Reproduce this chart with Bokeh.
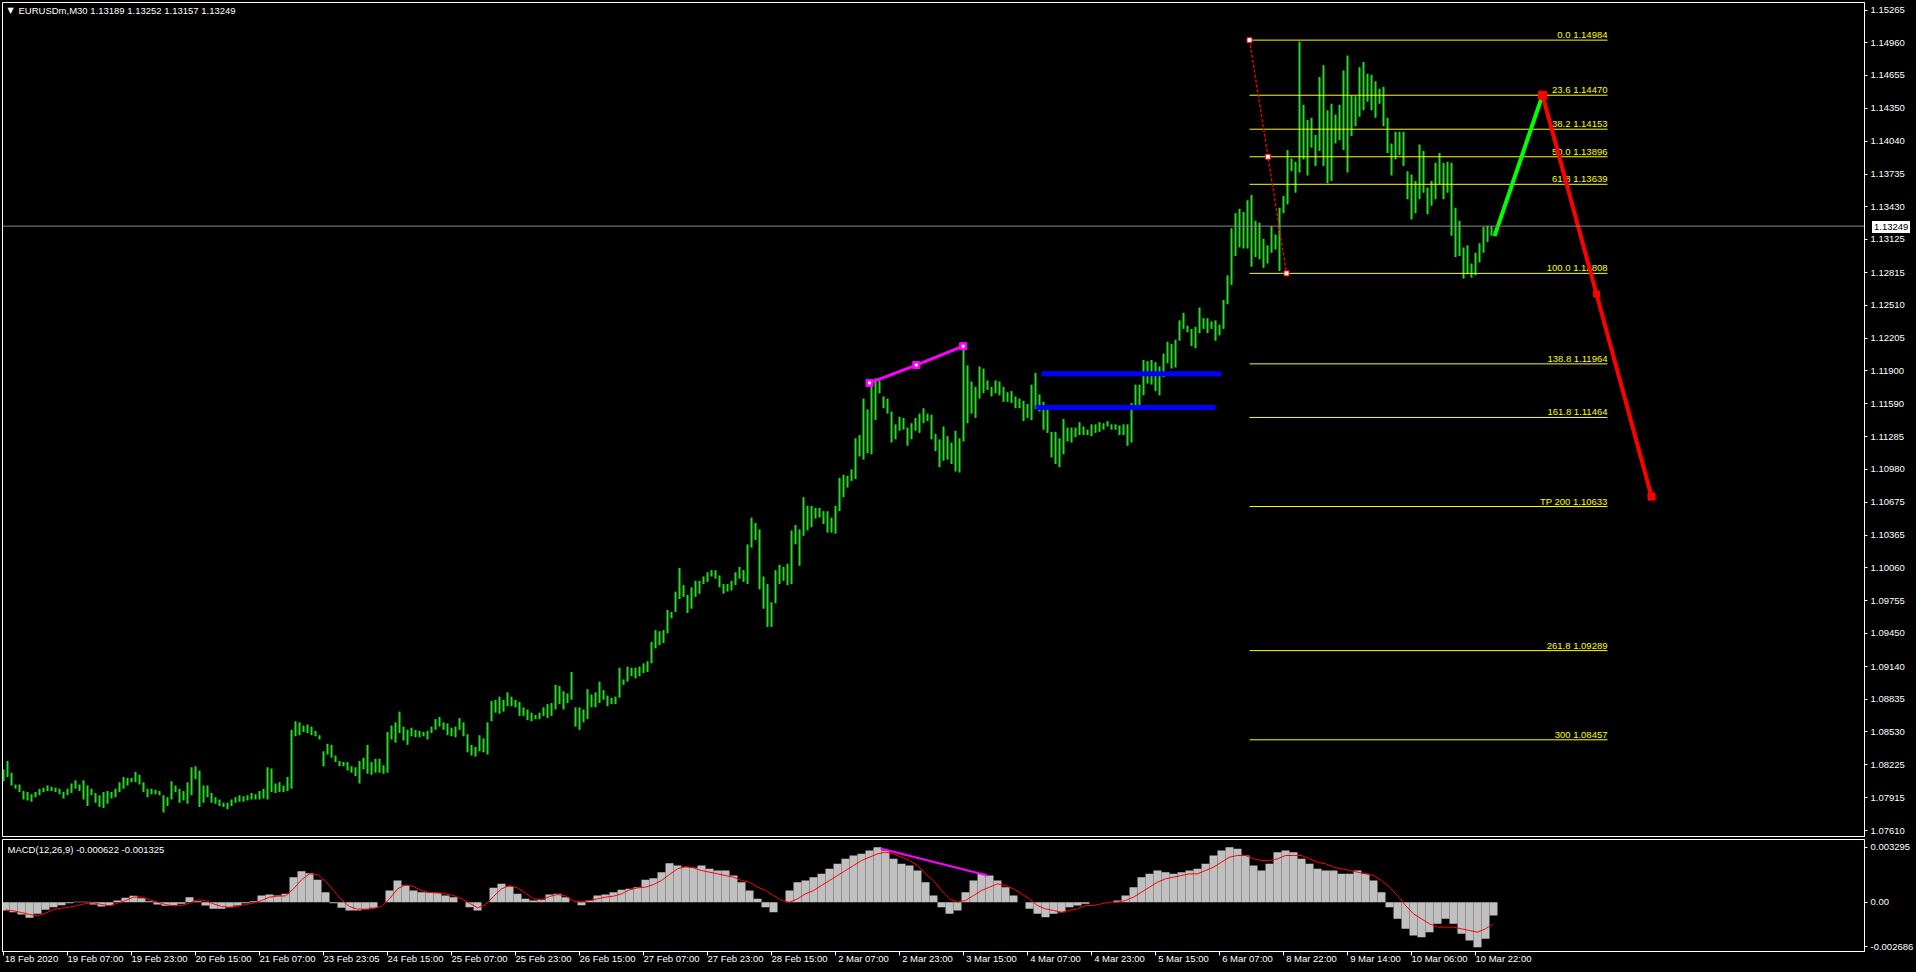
from bokeh.plotting import figure
from bokeh.layouts import column
from bokeh.models import (ColumnDataSource, FixedTicker, Range1d, Label, Span,
                          LinearAxis, PrintfTickFormatter, Div)
from bokeh.embed import file_html
from bokeh.resources import INLINE
from bokeh.core.properties import value

# ---------------- data ----------------
symbol_text = "EURUSDm,M30  1.13189 1.13252 1.13157 1.13249"
macd_text = "MACD(12,26,9) -0.000622 -0.001325"

# hourly columns of EURUSD M30 bars: high / low
bar_high = [
    1.0818, 1.0826, 1.0815, 1.0804, 1.0804, 1.0798, 1.0797, 1.0795, 1.0797, 1.0800,
    1.0801, 1.0803, 1.0802, 1.0801, 1.0800, 1.0797, 1.0800, 1.0805, 1.0808, 1.0804,
    1.0808, 1.0803, 1.0800, 1.0796, 1.0794, 1.0797, 1.0798, 1.0797, 1.0800, 1.0806,
    1.0811, 1.0810, 1.0810, 1.0816, 1.0813, 1.0806, 1.0800, 1.0800, 1.0799, 1.0798,
    1.0794, 1.0792, 1.0807, 1.0803, 1.0800, 1.0798, 1.0806, 1.0820, 1.0821, 1.0817,
    1.0803, 1.0803, 1.0796, 1.0792, 1.0790, 1.0787, 1.0787, 1.0790, 1.0792, 1.0794,
    1.0793, 1.0794, 1.0796, 1.0795, 1.0798, 1.0800, 1.0820, 1.0819, 1.0805, 1.0806,
    1.0803, 1.0811, 1.0855, 1.0863, 1.0862, 1.0859, 1.0860, 1.0858, 1.0854, 1.0850,
    1.0835, 1.0842, 1.0841, 1.0831, 1.0826, 1.0825, 1.0825, 1.0821, 1.0820, 1.0826,
    1.0829, 1.0841, 1.0825, 1.0828, 1.0828, 1.0822, 1.0853, 1.0859, 1.0862, 1.0872,
    1.0858, 1.0855, 1.0857, 1.0855, 1.0854, 1.0853, 1.0854, 1.0858, 1.0865, 1.0867,
    1.0862, 1.0861, 1.0857, 1.0858, 1.0866, 1.0862, 1.0851, 1.0841, 1.0839, 1.0850,
    1.0847, 1.0862, 1.0882, 1.0883, 1.0886, 1.0883, 1.0890, 1.0886, 1.0883, 1.0881,
    1.0876, 1.0874, 1.0871, 1.0869, 1.0871, 1.0876, 1.0879, 1.0880, 1.0897, 1.0896,
    1.0891, 1.0889, 1.0909, 1.0876, 1.0876, 1.0874, 1.0893, 1.0888, 1.0890, 1.0900,
    1.0892, 1.0887, 1.0885, 1.0886, 1.0913, 1.0902, 1.0914, 1.0913, 1.0913, 1.0914,
    1.0917, 1.0919, 1.0937, 1.0948, 1.0947, 1.0948, 1.0967, 1.0965, 1.0984, 1.1006,
    1.0990, 1.0981, 1.0988, 1.0994, 1.0994, 1.0998, 1.1002, 1.1004, 1.1004, 1.0999,
    1.0991, 1.0991, 1.0994, 1.1002, 1.1007, 1.1004, 1.1028, 1.1053, 1.1048, 1.1042,
    1.0998, 1.0991, 1.0974, 1.1004, 1.1009, 1.1007, 1.1010, 1.1041, 1.1046, 1.1042,
    1.1072, 1.1064, 1.1064, 1.1062, 1.1062, 1.1059, 1.1059, 1.1053, 1.1064, 1.1090,
    1.1093, 1.1092, 1.1098, 1.1127, 1.1130, 1.1164, 1.1154, 1.1178, 1.1183, 1.1181,
    1.1166, 1.1164, 1.1152, 1.1140, 1.1147, 1.1146, 1.1137, 1.1141, 1.1146, 1.1150,
    1.1155, 1.1150, 1.1149, 1.1131, 1.1126, 1.1138, 1.1129, 1.1123, 1.1134, 1.1127,
    1.1211, 1.1195, 1.1180, 1.1175, 1.1194, 1.1192, 1.1181, 1.1175, 1.1181, 1.1180,
    1.1175, 1.1170, 1.1171, 1.1166, 1.1164, 1.1162, 1.1159, 1.1177, 1.1188, 1.1168,
    1.1161, 1.1154, 1.1133, 1.1133, 1.1127, 1.1145, 1.1137, 1.1137, 1.1137, 1.1142,
    1.1138, 1.1135, 1.1140, 1.1140, 1.1142, 1.1141, 1.1143, 1.1140, 1.1140, 1.1139,
    1.1140, 1.1140, 1.1160, 1.1177, 1.1177, 1.1200, 1.1199, 1.1200, 1.1198, 1.1194,
    1.1206, 1.1217, 1.1215, 1.1219, 1.1237, 1.1244, 1.1232, 1.1229, 1.1231, 1.1249,
    1.1239, 1.1239, 1.1236, 1.1237, 1.1233, 1.1256, 1.1279, 1.1323, 1.1337, 1.1341,
    1.1338, 1.1349, 1.1354, 1.1330, 1.1328, 1.1313, 1.1307, 1.1325, 1.1317, 1.1342,
    1.1353, 1.1396, 1.1388, 1.1385, 1.1497, 1.1438, 1.1424, 1.1426, 1.1410, 1.1464,
    1.1475, 1.1433, 1.1439, 1.1429, 1.1438, 1.1470, 1.1484, 1.1447, 1.1446, 1.1473,
    1.1478, 1.1467, 1.1466, 1.1460, 1.1453, 1.1455, 1.1426, 1.1402, 1.1413, 1.1413,
    1.1413, 1.1376, 1.1373, 1.1367, 1.1401, 1.1395, 1.1361, 1.1367, 1.1384, 1.1393,
    1.1384, 1.1385, 1.1384, 1.1342, 1.1330, 1.1305, 1.1307, 1.1290, 1.1300, 1.1309,
    1.1324, 1.1325, 1.1325,
]
bar_low = [
    1.0807, 1.0811, 1.0803, 1.0800, 1.0797, 1.0790, 1.0789, 1.0788, 1.0792, 1.0794,
    1.0797, 1.0798, 1.0798, 1.0797, 1.0795, 1.0791, 1.0794, 1.0796, 1.0800, 1.0798,
    1.0790, 1.0784, 1.0794, 1.0787, 1.0783, 1.0782, 1.0786, 1.0791, 1.0792, 1.0797,
    1.0800, 1.0803, 1.0806, 1.0806, 1.0804, 1.0797, 1.0792, 1.0795, 1.0795, 1.0794,
    1.0778, 1.0784, 1.0790, 1.0797, 1.0787, 1.0789, 1.0786, 1.0794, 1.0809, 1.0783,
    1.0787, 1.0792, 1.0787, 1.0786, 1.0784, 1.0783, 1.0781, 1.0784, 1.0787, 1.0788,
    1.0788, 1.0789, 1.0790, 1.0790, 1.0790, 1.0791, 1.0790, 1.0797, 1.0796, 1.0797,
    1.0797, 1.0798, 1.0800, 1.0849, 1.0850, 1.0853, 1.0852, 1.0850, 1.0849, 1.0846,
    1.0821, 1.0832, 1.0829, 1.0825, 1.0821, 1.0821, 1.0817, 1.0815, 1.0812, 1.0805,
    1.0818, 1.0814, 1.0813, 1.0815, 1.0815, 1.0814, 1.0815, 1.0846, 1.0843, 1.0852,
    1.0845, 1.0841, 1.0849, 1.0848, 1.0848, 1.0849, 1.0846, 1.0852, 1.0855, 1.0858,
    1.0855, 1.0850, 1.0849, 1.0848, 1.0855, 1.0849, 1.0834, 1.0831, 1.0830, 1.0835,
    1.0834, 1.0832, 1.0863, 1.0871, 1.0870, 1.0872, 1.0877, 1.0877, 1.0876, 1.0868,
    1.0868, 1.0864, 1.0863, 1.0865, 1.0865, 1.0868, 1.0866, 1.0868, 1.0874, 1.0879,
    1.0874, 1.0880, 1.0883, 1.0858, 1.0855, 1.0862, 1.0865, 1.0876, 1.0876, 1.0880,
    1.0883, 1.0877, 1.0879, 1.0879, 1.0885, 1.0897, 1.0900, 1.0905, 1.0903, 1.0905,
    1.0908, 1.0909, 1.0917, 1.0931, 1.0934, 1.0936, 1.0945, 1.0959, 1.0965, 1.0977,
    1.0979, 1.0964, 1.0968, 1.0979, 1.0982, 1.0991, 1.0993, 1.0998, 1.0996, 1.0988,
    1.0982, 1.0984, 1.0985, 1.0990, 1.0996, 1.0993, 1.0991, 1.1025, 1.1032, 1.0986,
    1.0968, 1.0951, 1.0951, 1.0973, 1.0991, 1.0994, 1.0990, 1.0991, 1.1028, 1.1008,
    1.1036, 1.1041, 1.1044, 1.1052, 1.1053, 1.1047, 1.1039, 1.1039, 1.1038, 1.1059,
    1.1072, 1.1081, 1.1087, 1.1089, 1.1110, 1.1107, 1.1113, 1.1112, 1.1144, 1.1169,
    1.1155, 1.1150, 1.1123, 1.1126, 1.1134, 1.1135, 1.1120, 1.1126, 1.1134, 1.1132,
    1.1141, 1.1143, 1.1126, 1.1115, 1.1100, 1.1106, 1.1107, 1.1103, 1.1096, 1.1095,
    1.1124, 1.1141, 1.1150, 1.1146, 1.1164, 1.1169, 1.1172, 1.1166, 1.1169, 1.1167,
    1.1161, 1.1161, 1.1160, 1.1155, 1.1155, 1.1143, 1.1146, 1.1144, 1.1154, 1.1152,
    1.1135, 1.1132, 1.1109, 1.1103, 1.1100, 1.1112, 1.1124, 1.1123, 1.1128, 1.1130,
    1.1130, 1.1130, 1.1129, 1.1132, 1.1133, 1.1135, 1.1138, 1.1135, 1.1135, 1.1130,
    1.1130, 1.1120, 1.1123, 1.1154, 1.1156, 1.1167, 1.1178, 1.1177, 1.1171, 1.1167,
    1.1184, 1.1197, 1.1192, 1.1193, 1.1218, 1.1229, 1.1226, 1.1213, 1.1211, 1.1225,
    1.1229, 1.1225, 1.1229, 1.1218, 1.1223, 1.1229, 1.1252, 1.1270, 1.1297, 1.1305,
    1.1304, 1.1304, 1.1287, 1.1296, 1.1294, 1.1286, 1.1290, 1.1300, 1.1303, 1.1283,
    1.1337, 1.1345, 1.1376, 1.1356, 1.1375, 1.1387, 1.1372, 1.1398, 1.1381, 1.1395,
    1.1381, 1.1365, 1.1367, 1.1402, 1.1405, 1.1396, 1.1375, 1.1409, 1.1418, 1.1427,
    1.1433, 1.1441, 1.1433, 1.1426, 1.1439, 1.1418, 1.1393, 1.1372, 1.1387, 1.1391,
    1.1381, 1.1350, 1.1331, 1.1337, 1.1350, 1.1356, 1.1336, 1.1344, 1.1350, 1.1364,
    1.1350, 1.1356, 1.1316, 1.1296, 1.1297, 1.1276, 1.1280, 1.1277, 1.1279, 1.1291,
    1.1300, 1.1310, 1.1316,
]

# MACD(12,26,9) histogram and signal, one value per two hourly columns
macd_hist = [
    -0.0005, -0.0006, -0.00074, -0.00094, -0.0007, -0.00046, -0.0003, -0.00018, -0.00006, 0.00002,
    0.00002, -0.00014, -0.00026, -0.00018, 0.0001, 0.00026, 0.00038, 0.00024, 0.00006, -0.00014,
    -0.00022, -0.00018, -0.0001, 0.0003, 0.00006, -0.0002, -0.0004, -0.0004, -0.0003, -0.0002,
    -0.00006, 0.00006, 0.0004, 0.00046, 0.0004, 0.0005, 0.0015, 0.00186, 0.00174, 0.00134,
    0.0006, -0.00006, -0.00034, -0.0005, -0.0005, -0.00042, -0.00034, 0.0, 0.0007, 0.0013,
    0.001, 0.0007, 0.0006, 0.00058, 0.00054, 0.0004, 0.0003, 0.0, -0.0003, -0.0005,
    0.0, 0.00086, 0.0011, 0.00094, 0.0005, 0.0002, 0.0001, 0.00014, 0.00046, 0.0005,
    0.0003, 0.0, -0.00018, 0.0001, 0.0004, 0.00046, 0.0006, 0.00074, 0.0008, 0.0009,
    0.00134, 0.00144, 0.0018, 0.00234, 0.0022, 0.0021, 0.00206, 0.0022, 0.0020, 0.0019,
    0.0019, 0.0016, 0.0012, 0.0007, 0.0002, -0.0003, -0.0006, 0.0, 0.0007, 0.0012,
    0.0013, 0.0015, 0.0017, 0.0020, 0.0023, 0.0026, 0.0028, 0.0029, 0.0031, 0.0033,
    0.0031, 0.0026, 0.0023, 0.0022, 0.0019, 0.0012, 0.0004, -0.0003, -0.0007, -0.0005,
    0.0006, 0.0013, 0.0017, 0.0016, 0.0013, 0.0009, 0.0004, 0.0, -0.0004, -0.0007,
    -0.0009, -0.0007, -0.0006, -0.0003, -0.0002, -0.0001, 0.0, 0.0, 0.0, 0.0001,
    0.0004, 0.0009, 0.0015, 0.0017, 0.0019, 0.0018, 0.0017, 0.0018, 0.0019, 0.0020,
    0.0023, 0.0028, 0.0031, 0.0033, 0.0032, 0.0028, 0.0022, 0.0019, 0.0023, 0.0030,
    0.0031, 0.0030, 0.0026, 0.0023, 0.0020, 0.0019, 0.0019, 0.0017, 0.0017, 0.0019,
    0.0017, 0.0013, 0.0006, -0.0003, -0.0010, -0.0016, -0.0020, -0.0021, -0.0018, -0.0013,
    -0.0010, -0.0013, -0.0019, -0.0023, -0.0027, -0.0022, -0.0008,
]
macd_signal = [
    -0.00046, -0.00052, -0.00062, -0.00074, -0.00082, -0.00066, -0.00044, -0.00036, -0.0003, -0.0002,
    -0.00008, -0.00004, -0.00014, -0.00022, -0.00006, 0.0001, 0.0003, 0.00032, 0.00014, 0.0,
    -0.00014, -0.00022, -0.0002, -0.00006, 0.00014, 0.0001, -0.0001, -0.00026, -0.0003, -0.00024,
    -0.00014, -0.00006, 0.0001, 0.0003, 0.00036, 0.00038, 0.0008, 0.00134, 0.0017, 0.00166,
    0.00126, 0.0007, 0.00014, -0.00026, -0.00042, -0.00042, -0.00038, -0.00026, 0.0002, 0.0008,
    0.00104, 0.00094, 0.0007, 0.00058, 0.00058, 0.0005, 0.0004, 0.0002, -0.00006, -0.00034,
    -0.00014, 0.00034, 0.0008, 0.001, 0.00086, 0.00054, 0.0002, 0.00014, 0.00034, 0.00046,
    0.00038, 0.00006, 0.00002, 0.0001, 0.0002, 0.0003, 0.00036, 0.0005, 0.00074, 0.00086,
    0.0009, 0.00106, 0.0013, 0.00166, 0.002, 0.00214, 0.00206, 0.0019, 0.0018, 0.0017,
    0.0016, 0.0015, 0.0013, 0.0012, 0.0009, 0.0007, 0.0004, 0.0001, 0.0, 0.0002,
    0.0005, 0.0007, 0.0010, 0.0013, 0.0016, 0.0019, 0.0022, 0.0025, 0.0027, 0.0029,
    0.0030, 0.0029, 0.0027, 0.0025, 0.0022, 0.0017, 0.0013, 0.0007, 0.0002, 0.0,
    0.0001, 0.0004, 0.0007, 0.0009, 0.0011, 0.0010, 0.0008, 0.0005, 0.0002, -0.0002,
    -0.0004, -0.0005, -0.0006, -0.0005, -0.0004, -0.0002, -0.0002, -0.0001, 0.0, 0.0,
    0.0001, 0.0003, 0.0006, 0.0009, 0.0012, 0.0014, 0.0015, 0.0016, 0.0017, 0.0017,
    0.0019, 0.0021, 0.0024, 0.0027, 0.0028, 0.0028, 0.0026, 0.0025, 0.0025, 0.0026,
    0.0028, 0.0028, 0.0028, 0.0026, 0.0024, 0.0023, 0.0021, 0.0020, 0.0019, 0.0018,
    0.0017, 0.0016, 0.0013, 0.0009, 0.0004, -0.0002, -0.0007, -0.0010, -0.0013, -0.0015,
    -0.0015, -0.0015, -0.0016, -0.0017, -0.0018, -0.0016, -0.0013,
]

time_labels = ["18 Feb 2020", "19 Feb 07:00", "19 Feb 23:00", "20 Feb 15:00", "21 Feb 07:00",
               "23 Feb 23:05", "24 Feb 15:00", "25 Feb 07:00", "25 Feb 23:00", "26 Feb 15:00",
               "27 Feb 07:00", "27 Feb 23:00", "28 Feb 15:00", "2 Mar 07:00", "2 Mar 23:00",
               "3 Mar 15:00", "4 Mar 07:00", "4 Mar 23:00", "5 Mar 15:00", "6 Mar 07:00",
               "8 Mar 22:00", "9 Mar 14:00", "10 Mar 06:00", "10 Mar 22:00"]
price_ticks = [1.15265, 1.14960, 1.14655, 1.14350, 1.14040, 1.13735, 1.13430, 1.13125,
               1.12815, 1.12510, 1.12205, 1.11900, 1.11590, 1.11285, 1.10980, 1.10675,
               1.10365, 1.10060, 1.09755, 1.09450, 1.09140, 1.08835, 1.08530, 1.08225,
               1.07915, 1.07610]
macd_ticks = [0.003295, 0.0, -0.002686]
macd_tick_text = ["0.003295", "0.00", "-0.002686"]
current_price = 1.13249

# Fibonacci object
fib_names = ["0.0", "23.6", "38.2", "50.0", "61.8", "100.0", "138.8", "161.8", "TP 200", "261.8", "300"]
fib_levels = [1.14984, 1.14470, 1.14153, 1.13896, 1.13639, 1.12808, 1.11964, 1.11464, 1.10633, 1.09289, 1.08457]
fib_span_cols = [311.5, 401.0]
fib_anchor_cols = [311.5, 316.1, 320.75]
fib_anchor_prices = [1.14984, 1.13896, 1.12808]

# projection path (green up, red down)
up_cols = [372.75, 384.75]
up_prices = [1.13155, 1.14470]
down_cols = [384.75, 398.25, 412.0]
down_prices = [1.14470, 1.12615, 1.10726]

# blue zones
zone_from = [259.5, 258.0]
zone_to = [304.5, 303.0]
zone_prices = [1.11871, 1.11556]

# divergence lines (price and MACD)
div_cols = [216.5, 228.2, 239.9]
div_prices = [1.11786, 1.11953, 1.12129]
macd_div_cols = [219.25, 246.0]
macd_div_vals = [0.00322, 0.00160]

assert len(bar_high) == len(bar_low)
assert len(macd_hist) == len(macd_signal)

# ---------------- styling ----------------
FONT = "Liberation Sans"
FS = "9.5px"
GREEN = "#25D925"
FRAME_W = 1862
MAIN_H = 834
MACD_H = 112
PX_PER_COL = 4.0
EDGE = 2

xr = Range1d(-0.25, -0.25 + FRAME_W / PX_PER_COL)
main_lo, main_hi = 1.07555, 1.15335
macd_lo, macd_hi = -0.00296, 0.00376


def style_yaxis(ax):
    ax.major_label_text_color = "white"
    ax.major_label_text_font = FONT
    ax.major_label_text_font_size = FS
    ax.axis_line_color = "white"
    ax.major_tick_line_color = "white"
    ax.major_tick_in = 0
    ax.major_tick_out = 3
    ax.minor_tick_line_color = None
    ax.major_label_standoff = 3


main = figure(frame_width=FRAME_W, frame_height=MAIN_H, x_range=xr,
              y_range=Range1d(main_lo, main_hi),
              output_backend="svg", toolbar_location=None,
              x_axis_location=None, y_axis_location="right",
              background_fill_color="black", border_fill_color="black",
              outline_line_color="white", outline_line_alpha=1.0,
              min_border_left=EDGE, min_border_top=EDGE, min_border_right=0, min_border_bottom=3)
main.grid.visible = False
ya = main.yaxis[0]
ya.ticker = FixedTicker(ticks=price_ticks)
ya.formatter = PrintfTickFormatter(format="%.5f")
style_yaxis(ya)

bars = ColumnDataSource(dict(x=list(range(len(bar_high))), high=bar_high, low=bar_low))
main.segment(x0="x", y0="low", x1="x", y1="high", source=bars, line_color=GREEN, line_width=2)

# current price line
main.add_layout(Span(location=current_price, dimension="width", line_color="#8A8A8A", line_width=1))

# fibonacci levels
for lvl in fib_levels:
    main.line(x=fib_span_cols, y=[lvl, lvl], line_color="#FFFF00", line_width=1)
fib_texts = ["%s %.5f" % (n, l) for n, l in zip(fib_names, fib_levels)]
main.text(x=[fib_span_cols[1]] * len(fib_levels), y=fib_levels, text=fib_texts,
          text_align="right", text_baseline="bottom", text_color="#FFFF00",
          text_font=value(FONT), text_font_size=FS)
main.line(x=[fib_anchor_cols[0], fib_anchor_cols[-1]], y=[fib_anchor_prices[0], fib_anchor_prices[-1]],
          line_color="#FF0000", line_width=1.3, line_dash="3 2")
main.scatter(x=fib_anchor_cols, y=fib_anchor_prices, marker="square", size=5,
             fill_color="white", line_color="#FF0000", line_width=1)

# blue zones
main.segment(x0=zone_from, x1=zone_to, y0=zone_prices, y1=zone_prices,
             line_color="#0000FF", line_width=5)

# divergence on price
main.line(x=div_cols, y=div_prices, line_color="#FF00FF", line_width=3)
main.scatter(x=div_cols, y=div_prices, marker="square", size=7, color="#FF00FF")
main.scatter(x=div_cols, y=div_prices, marker="square", size=2, color="white")

# projection
main.line(x=up_cols, y=up_prices, line_color="#00FF00", line_width=4)
main.line(x=down_cols, y=down_prices, line_color="#FF0000", line_width=4)
main.scatter(x=down_cols, y=down_prices, marker="square", size=[8, 6, 7], color="#FF0000")

# header texts
main.add_layout(Label(x=5, y=1.15262, x_units="screen", text="\u25BC", text_color="white",
                      text_font="DejaVu Sans", text_font_size="8px", text_baseline="middle"))
main.add_layout(Label(x=16, y=1.15262, x_units="screen", text=symbol_text, text_color="white",
                      text_font=FONT, text_font_size=FS, text_baseline="middle"))

# ---------------- MACD panel ----------------
macd = figure(frame_width=FRAME_W, frame_height=MACD_H, x_range=xr,
              y_range=Range1d(macd_lo, macd_hi),
              output_backend="svg", toolbar_location=None,
              x_axis_location=None, y_axis_location="right",
              background_fill_color="black", border_fill_color="black",
              outline_line_color="white", outline_line_alpha=1.0,
              min_border_left=EDGE, min_border_top=0, min_border_right=0, min_border_bottom=0)
macd.grid.visible = False
my = macd.yaxis[0]
my.ticker = FixedTicker(ticks=macd_ticks)
my.major_label_overrides = {t: s for t, s in zip(macd_ticks, macd_tick_text)}
style_yaxis(my)

mx = [2 * k + 0.5 for k in range(len(macd_hist))]
macd.vbar(x=mx, top=macd_hist, bottom=0, width=2, fill_color="#C0C0C0", line_color=None)
macd.line(x=mx, y=macd_signal, line_color="#FF0000", line_width=1)
macd.line(x=macd_div_cols, y=macd_div_vals, line_color="#FF00FF", line_width=2)
macd.add_layout(Label(x=5, y=macd_hi - 9.5 * (macd_hi - macd_lo) / MACD_H, x_units="screen",
                      text=macd_text, text_color="white", text_font=FONT, text_font_size=FS,
                      text_baseline="middle"))

tick_pos = [16 * k for k in range(len(time_labels))]
tick_axis = LinearAxis(ticker=FixedTicker(ticks=tick_pos), major_label_text_font_size="1px",
                       major_label_text_color=None, major_label_text_alpha=0,
                       major_label_standoff=0, major_tick_in=0, major_tick_out=4,
                       major_tick_line_color="white", minor_tick_line_color=None,
                       axis_line_color="white")
label_pos = [t + 7 for t in tick_pos]
label_axis = LinearAxis(ticker=FixedTicker(ticks=label_pos),
                        major_label_overrides={p: s for p, s in zip(label_pos, time_labels)},
                        major_label_standoff=-3, major_tick_in=0, major_tick_out=0,
                        major_tick_line_color=None, minor_tick_line_color=None,
                        axis_line_color=None, major_label_text_color="white",
                        major_label_text_font=FONT, major_label_text_font_size=FS)
macd.add_layout(tick_axis, "below")
macd.add_layout(label_axis, "below")

# current price box on the price scale (floating over the axis area)
box_top = EDGE + (main_hi - current_price) / (main_hi - main_lo) * MAIN_H - 10
price_box = Div(text="%.5f" % current_price, width=38, height=12,
                styles={"position": "absolute", "left": "%dpx" % (EDGE + FRAME_W + 3),
                        "top": "%dpx" % round(box_top), "background-color": "white",
                        "color": "black", "font-family": FONT, "font-size": FS,
                        "line-height": "12px", "padding-left": "2px", "z-index": "10"})

layout = column(main, macd, price_box, spacing=0, styles={"background-color": "black"})

page_style = '{% block postamble %}<style>html, body { background-color: #000000; }</style>{% endblock %}'
open("out.html", "w").write(file_html(layout, INLINE, template=page_style))
